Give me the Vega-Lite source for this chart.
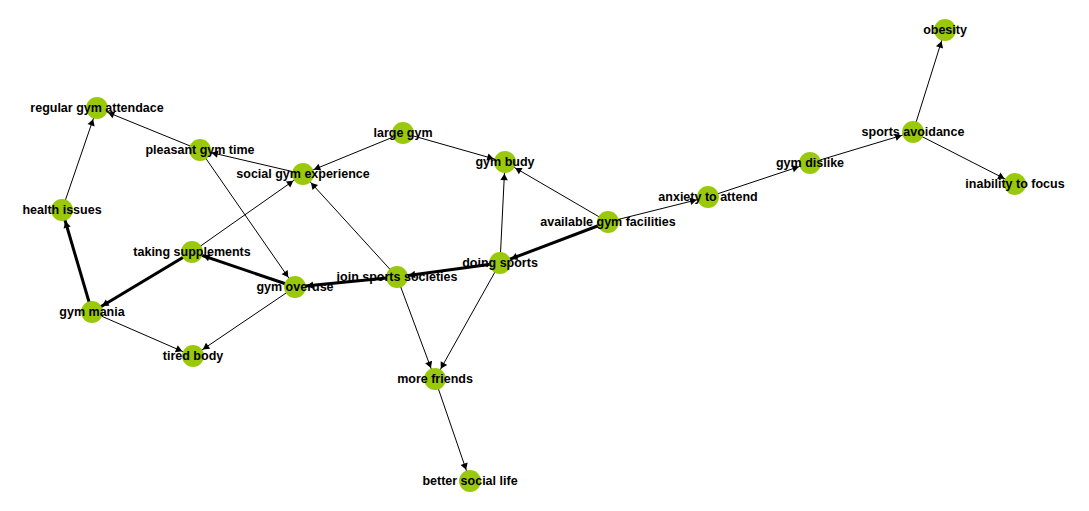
{
"$schema":"https://vega.github.io/schema/vega-lite/v6.json",
"width":1089,"height":511,"padding":0,
"autosize":{"type":"fit","contains":"padding"},
"config":{"view":{"stroke":null}},
"datasets":{
"nodes":[
{"id":"obesity","x":945,"y":30},
{"id":"sports avoidance","x":913,"y":132},
{"id":"inability to focus","x":1015,"y":184},
{"id":"gym dislike","x":810,"y":163},
{"id":"anxiety to attend","x":708,"y":197},
{"id":"available gym facilities","x":608,"y":222},
{"id":"doing sports","x":500,"y":263},
{"id":"gym budy","x":505,"y":162},
{"id":"large gym","x":403,"y":133},
{"id":"social gym experience","x":303,"y":174},
{"id":"pleasant gym time","x":200,"y":150},
{"id":"regular gym attendace","x":97,"y":108},
{"id":"health issues","x":62,"y":210},
{"id":"taking supplements","x":192,"y":252},
{"id":"gym mania","x":92,"y":312},
{"id":"gym overuse","x":295,"y":287},
{"id":"join sports societies","x":397,"y":277},
{"id":"tired body","x":193,"y":356},
{"id":"more friends","x":435,"y":379},
{"id":"better social life","x":470,"y":481}
],
"edges":[
{"s":"sports avoidance","t":"obesity","w":1},
{"s":"sports avoidance","t":"inability to focus","w":1},
{"s":"gym dislike","t":"sports avoidance","w":1},
{"s":"anxiety to attend","t":"gym dislike","w":1},
{"s":"available gym facilities","t":"anxiety to attend","w":1},
{"s":"available gym facilities","t":"gym budy","w":1},
{"s":"available gym facilities","t":"doing sports","w":3},
{"s":"doing sports","t":"gym budy","w":1},
{"s":"doing sports","t":"join sports societies","w":3},
{"s":"doing sports","t":"more friends","w":1},
{"s":"large gym","t":"gym budy","w":1},
{"s":"large gym","t":"social gym experience","w":1},
{"s":"social gym experience","t":"pleasant gym time","w":1},
{"s":"pleasant gym time","t":"regular gym attendace","w":1},
{"s":"pleasant gym time","t":"gym overuse","w":1},
{"s":"join sports societies","t":"social gym experience","w":1},
{"s":"join sports societies","t":"more friends","w":1},
{"s":"join sports societies","t":"gym overuse","w":3},
{"s":"gym overuse","t":"taking supplements","w":3},
{"s":"taking supplements","t":"gym mania","w":3},
{"s":"gym mania","t":"health issues","w":3},
{"s":"health issues","t":"regular gym attendace","w":1},
{"s":"taking supplements","t":"social gym experience","w":1},
{"s":"gym overuse","t":"tired body","w":1},
{"s":"gym mania","t":"tired body","w":1},
{"s":"more friends","t":"better social life","w":1}
]},
"layer":[
{"data":{"name":"edges"},
"transform":[
{"lookup":"s","from":{"data":{"name":"nodes"},"key":"id","fields":["x","y"]},"as":["x1","y1"]},
{"lookup":"t","from":{"data":{"name":"nodes"},"key":"id","fields":["x","y"]},"as":["x2","y2"]}],
"mark":{"type":"rule","color":"#000"},
"encoding":{
"x":{"field":"x1","type":"quantitative","scale":{"domain":[0,1089],"nice":false,"zero":false},"axis":null},
"y":{"field":"y1","type":"quantitative","scale":{"domain":[0,511],"reverse":true,"nice":false,"zero":false},"axis":null},
"x2":{"field":"x2"},"y2":{"field":"y2"},
"strokeWidth":{"field":"w","type":"quantitative","scale":null,"legend":null}}},
{"data":{"name":"edges"},
"transform":[
{"lookup":"s","from":{"data":{"name":"nodes"},"key":"id","fields":["x","y"]},"as":["x1","y1"]},
{"lookup":"t","from":{"data":{"name":"nodes"},"key":"id","fields":["x","y"]},"as":["x2","y2"]},
{"calculate":"sqrt(pow(datum.x2-datum.x1,2)+pow(datum.y2-datum.y1,2))","as":"len"},
{"calculate":"datum.x2-(datum.x2-datum.x1)/datum.len*15","as":"ax"},
{"calculate":"datum.y2-(datum.y2-datum.y1)/datum.len*15","as":"ay"},
{"calculate":"atan2(datum.x2-datum.x1,-(datum.y2-datum.y1))*180/PI","as":"ang"}],
"mark":{"type":"point","shape":"triangle-up","filled":true,"color":"#000","opacity":1},
"encoding":{
"x":{"field":"ax","type":"quantitative"},
"y":{"field":"ay","type":"quantitative"},
"angle":{"field":"ang","type":"quantitative","scale":null},
"size":{"value":55}}},
{"data":{"name":"nodes"},
"mark":{"type":"circle","color":"#99c90a","opacity":1,"size":480},
"encoding":{"x":{"field":"x","type":"quantitative"},"y":{"field":"y","type":"quantitative"}}},
{"data":{"name":"nodes"},
"mark":{"type":"text","font":"Liberation Sans","fontSize":12.5,"fontWeight":"bold","color":"#000"},
"encoding":{"x":{"field":"x","type":"quantitative"},"y":{"field":"y","type":"quantitative"},"text":{"field":"id"}}}
]}
